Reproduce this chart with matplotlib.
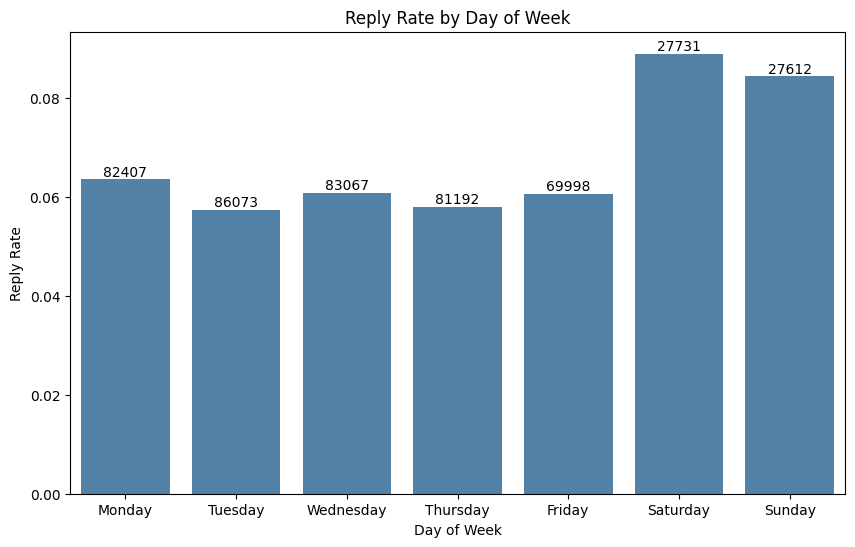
import matplotlib
matplotlib.use('Agg')
import matplotlib.pyplot as plt
import seaborn as sns
import pandas as pd

days = ['Monday', 'Tuesday', 'Wednesday', 'Thursday', 'Friday', 'Saturday', 'Sunday']
reply_rate = [0.0635, 0.0574, 0.0608, 0.0580, 0.0606, 0.0889, 0.0843]
counts = [82407, 86073, 83067, 81192, 69998, 27731, 27612]

df = pd.DataFrame({'day': days, 'rate': reply_rate})

plt.figure(figsize=(10, 6))
ax = sns.barplot(data=df, x='day', y='rate', color='steelblue')
ax.bar_label(ax.containers[0], labels=[str(c) for c in counts])
plt.title('Reply Rate by Day of Week')
plt.xlabel('Day of Week')
plt.ylabel('Reply Rate')
plt.savefig('out.png', bbox_inches='tight')
